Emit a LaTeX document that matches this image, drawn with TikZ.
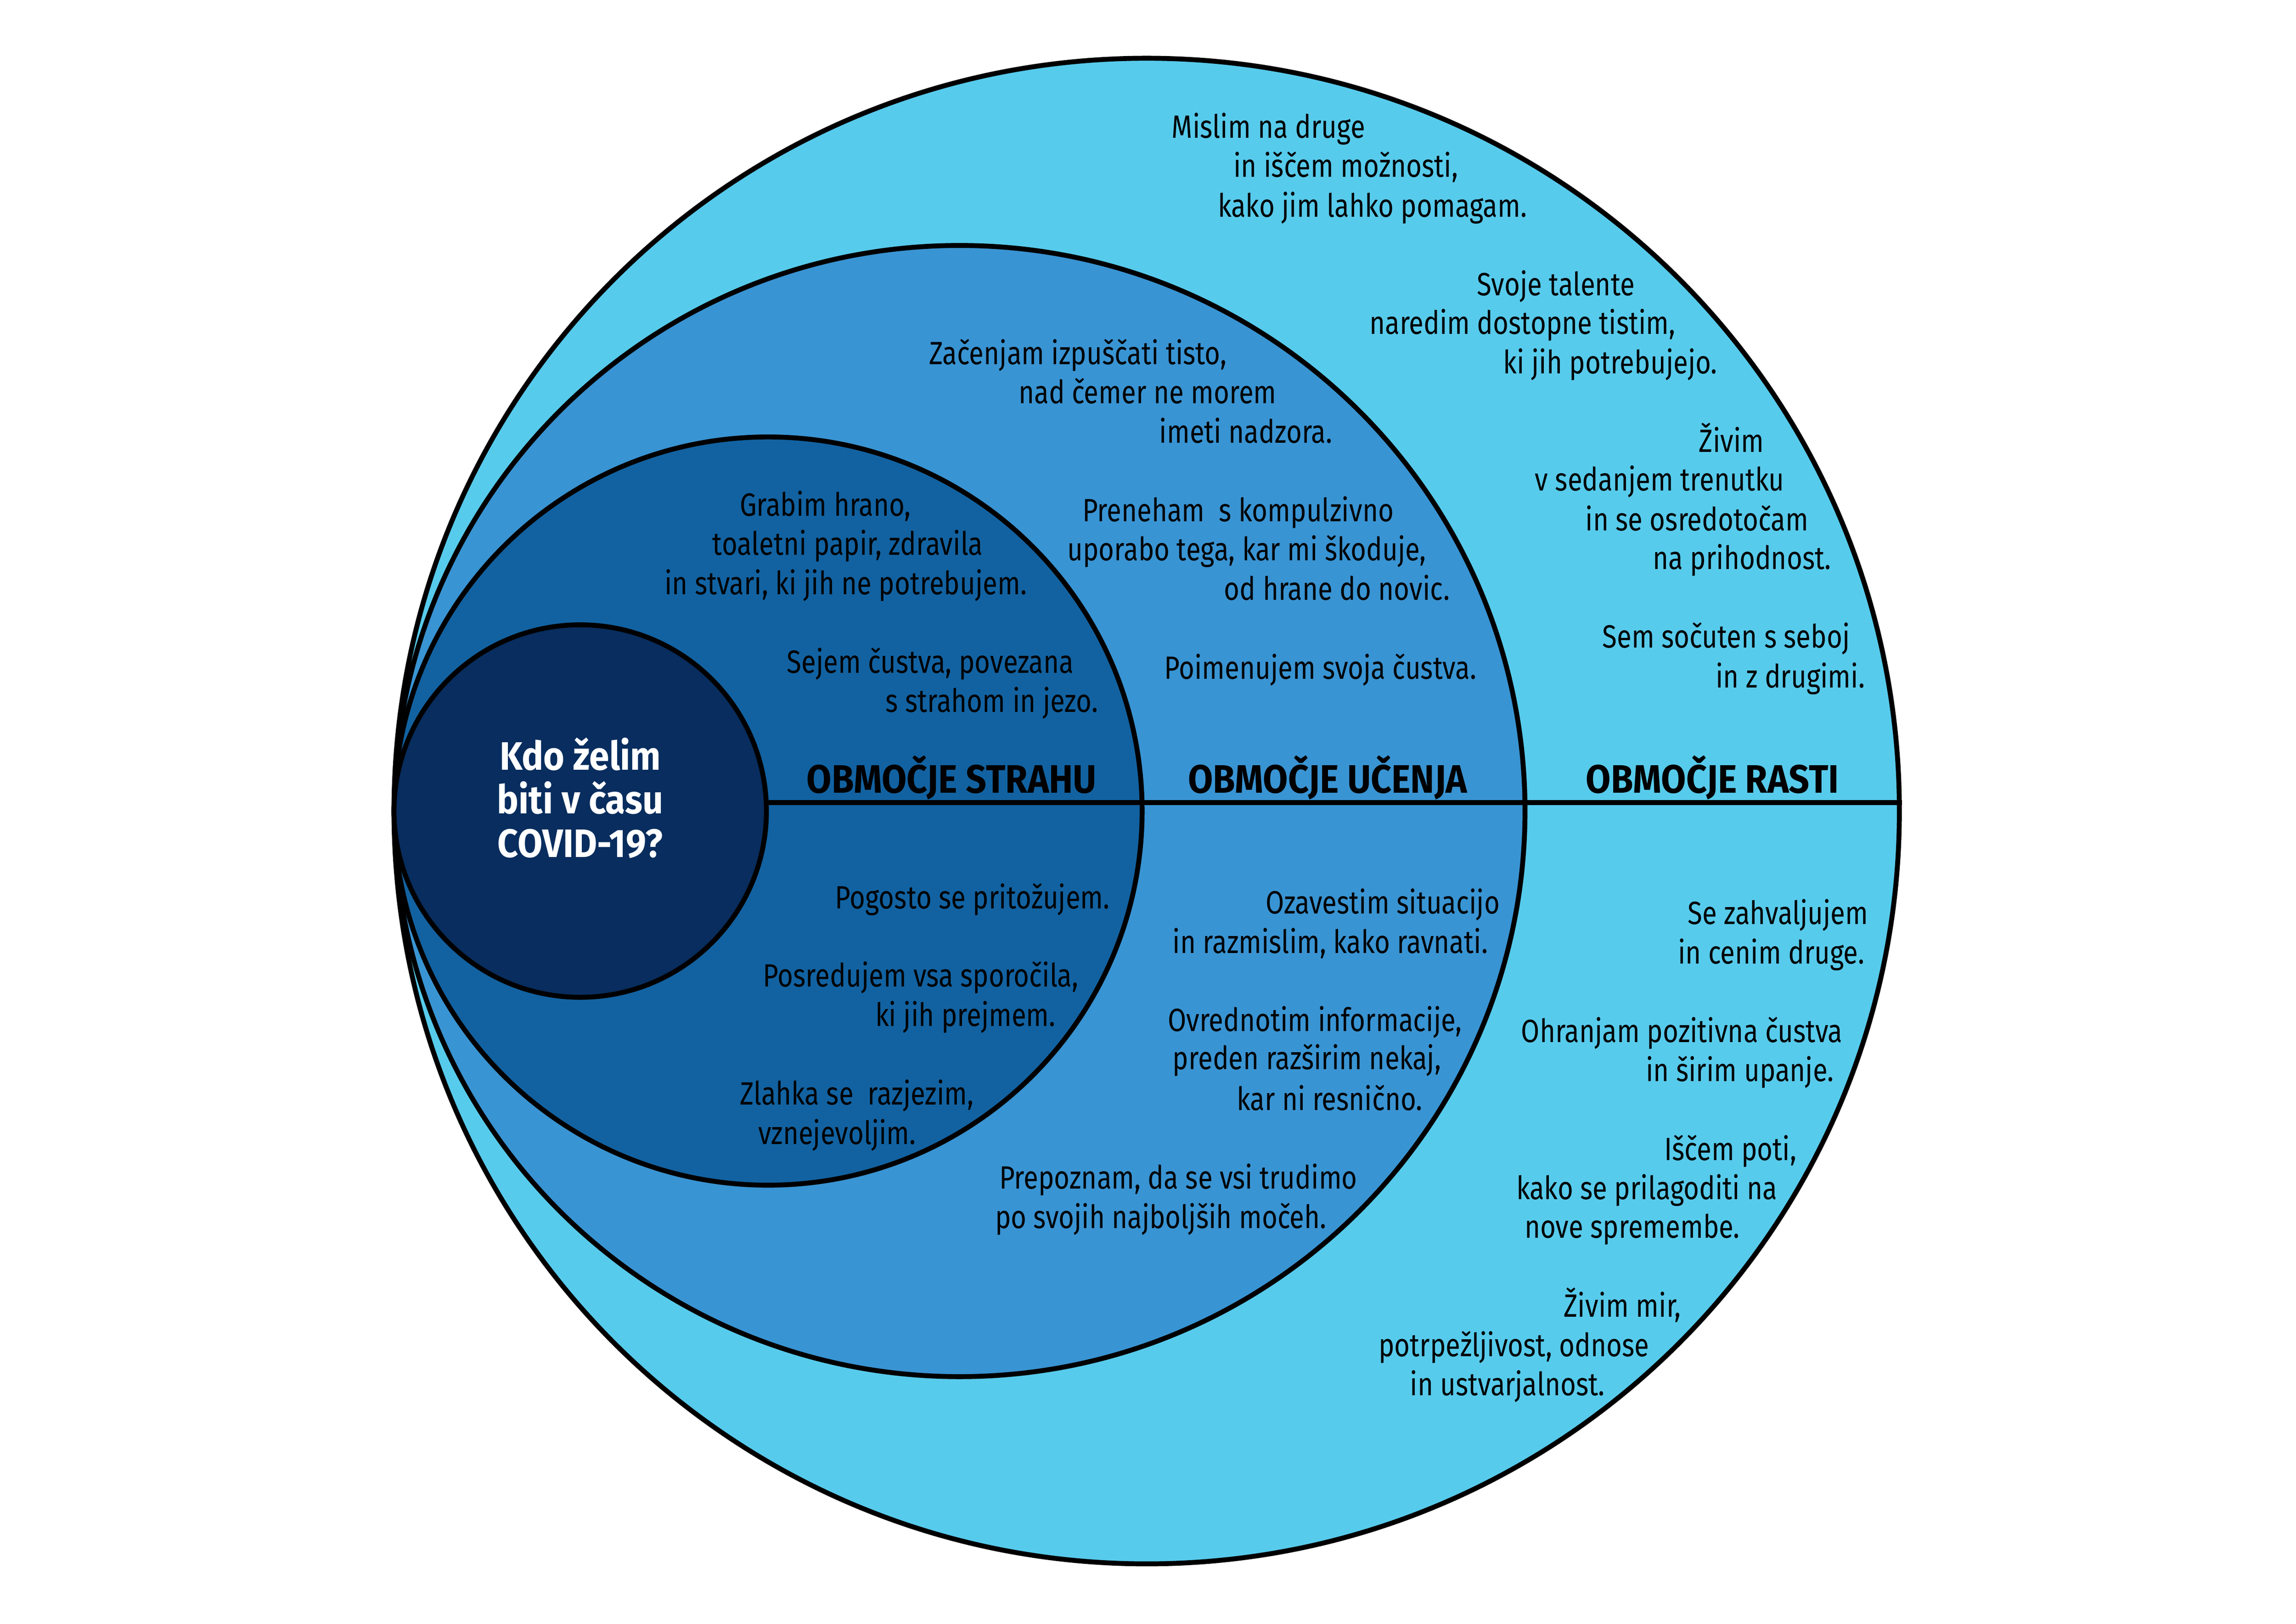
\documentclass[tikz,border=0pt]{standalone}
\usepackage{fontspec}
\setmainfont{Fira Sans}[FakeStretch=0.83, BoldFeatures={FakeStretch=0.91}]
\definecolor{rastblue}{HTML}{57CBEC}
\definecolor{ucenjeblue}{HTML}{3994D3}
\definecolor{strahblue}{HTML}{1262A1}
\definecolor{coreblue}{HTML}{082D5E}
\tikzset{
  zone/.style={circle, draw=black, line width=0.15cm, inner sep=0pt},
  txt/.style={anchor=base west, inner sep=0pt, font=\fontsize{28}{34}\selectfont},
  title/.style={anchor=base, inner sep=0pt, font=\fontsize{34.5}{40}\selectfont\bfseries},
}
\begin{document}
\begin{tikzpicture}
    \fill[white] (0,0) rectangle (70.16,49.61);
    % the four zones, all touching on the left
    \node[zone, fill=rastblue, minimum size=46cm] (outer) at (35.04,24.83) {};
    \node[zone, fill=ucenjeblue, minimum size=34.56cm] (learn) at (29.32,24.83) {};
    \node[zone, fill=strahblue, minimum size=22.86cm] (fear) at (23.47,24.83) {};
    \node[zone, fill=coreblue, minimum size=11.38cm] (inner) at (17.73,24.83) {};
    \draw[line width=0.15cm] ([yshift=2.6mm]inner.east) -- ([yshift=2.6mm]outer.east);
    \node[title, align=center, text=white, anchor=center] (question) at ([yshift=4mm]inner.center)
        {Kdo želim\\[-2pt]biti v času\\[-2pt]COVID-19?};
    % zone titles
    \node[title] (strah) at (29.08,25.39) {OBMOČJE STRAHU};
    \node[title] (ucenje) at (40.57,25.39) {OBMOČJE UČENJA};
    \node[title] (rast) at (52.33,25.39) {OBMOČJE RASTI};
    % growth zone
    \foreach \x/\y/\t [count=\i] in {
        35.80/45.39/{Mislim na druge},
        37.69/44.20/{in iščem možnosti,},
        37.21/42.98/{kako jim lahko pomagam.},
        45.13/40.58/{Svoje talente},
        41.84/39.40/{naredim dostopne tistim,},
        45.93/38.19/{ki jih potrebujejo.},
        51.91/35.80/{Živim},
        46.90/34.62/{v sedanjem trenutku},
        48.44/33.39/{in se osredotočam},
        50.50/32.21/{na prihodnost.},
        48.96/29.82/{Sem sočuten s seboj},
        52.42/28.59/{in z drugimi.},
        51.57/21.37/{Se zahvaljujem},
        51.27/20.16/{in cenim druge.},
        46.48/17.77/{Ohranjam pozitivna čustva},
        50.29/16.57/{in širim upanje.},
        50.85/14.16/{Iščem poti,},
        46.33/12.97/{kako se prilagoditi na},
        46.58/11.78/{nove spremembe.},
        47.78/9.37/{Živim mir,},
        42.12/8.16/{potrpežljivost, odnose},
        43.08/6.97/{in ustvarjalnost.}}
        \node[txt] (rast-\i) at (\x,\y) {\t};
    % learning zone
    \foreach \x/\y/\t [count=\i] in {
        28.38/38.47/{Začenjam izpuščati tisto,},
        31.12/37.28/{nad čemer ne morem},
        35.42/36.07/{imeti nadzora.},
        33.07/33.68/{Preneham\ \ s kompulzivno},
        32.61/32.49/{uporabo tega, kar mi škoduje,},
        37.40/31.28/{od hrane do novic.},
        35.57/28.87/{Poimenujem svoja čustva.},
        38.67/21.69/{Ozavestim situacijo},
        35.83/20.48/{in razmislim, kako ravnati.},
        35.68/18.10/{Ovrednotim informacije,},
        35.83/16.93/{preden razširim nekaj,},
        37.79/15.69/{kar ni resnično.},
        30.53/13.29/{Prepoznam, da se vsi trudimo},
        30.40/12.08/{po svojih najboljših močeh.}}
        \node[txt] (ucenje-\i) at (\x,\y) {\t};
    % fear zone
    \foreach \x/\y/\t [count=\i] in {
        22.60/33.84/{Grabim hrano,},
        21.77/32.65/{toaletni papir, zdravila},
        20.30/31.45/{in stvari, ki jih ne potrebujem.},
        24.04/29.05/{Sejem čustva, povezana},
        27.06/27.85/{s strahom in jezo.},
        25.51/21.85/{Pogosto se pritožujem.},
        23.31/19.46/{Posredujem vsa sporočila,},
        26.74/18.26/{ki jih prejmem.},
        22.61/15.86/{Zlahka se\ \ razjezim,},
        23.16/14.65/{vznejevoljim.}}
        \node[txt] (strah-\i) at (\x,\y) {\t};
\end{tikzpicture}
\end{document}
